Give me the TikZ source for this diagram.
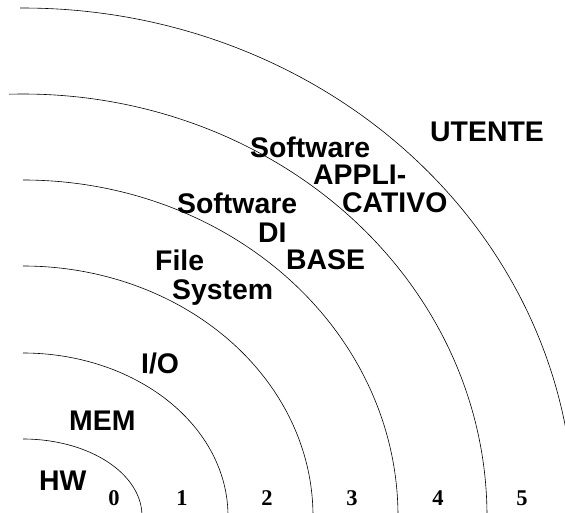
\documentclass[tikz,border=0pt]{standalone}
\usepackage{fontspec}
\setmainfont{Liberation Sans}
\newfontfamily\numfont{Liberation Serif}
\begin{document}
\begin{tikzpicture}[x=1pt,y=1pt,
  layer/.style={inner sep=0pt,anchor=base west,font=\bfseries\fontsize{28.4}{28.4}\selectfont},
  level/.style={inner sep=0pt,anchor=base,font=\numfont\bfseries\fontsize{22.5}{22.5}\selectfont},
  ring/.style={line width=0.6pt}]
\useasboundingbox (0,0) rectangle (565,512);
\begin{scope}
  \clip (0,0) rectangle (565,512);
  \coordinate (C) at (23,-4);
  % concentric quarter ellipses, one per layer
  \foreach \rx/\ry/\sa in {119/77/90, 205/163/90, 290/250/90, 375/336/90, 464/422/91.7, 551/508/90.3}{
    \draw[ring] (C) ++(\sa:\rx pt and \ry pt)
      arc[start angle=\sa, end angle=-5, x radius=\rx, y radius=\ry];
  }
\end{scope}
% layer names
\node[layer] (hw) at (39,22) {HW};
\node[layer] (mem) at (69,82) {MEM};
\node[layer] (io) at (141,139) {I/O};
\node[layer] (fs1) at (155,241) {File};
\node[layer] (fs2) at (172,212) {System};
\node[layer] (sb1) at (177,298) {Software};
\node[layer] (sb2) at (258,269) {DI};
\node[layer] (sb3) at (286,242) {BASE};
\node[layer] (sa1) at (250,354) {Software};
\node[layer] (sa2) at (313,327) {APPLI-};
\node[layer] (sa3) at (342,299) {CATIVO};
\node[layer] (ut) at (430,370) {UTENTE};
% level numbers
\node[level] (n0) at (114,7) {0};
\node[level] (n1) at (182,7) {1};
\node[level] (n2) at (267,7) {2};
\node[level] (n3) at (352,7) {3};
\node[level] (n4) at (438,7) {4};
\node[level] (n5) at (522,7) {5};
\end{tikzpicture}
\end{document}
